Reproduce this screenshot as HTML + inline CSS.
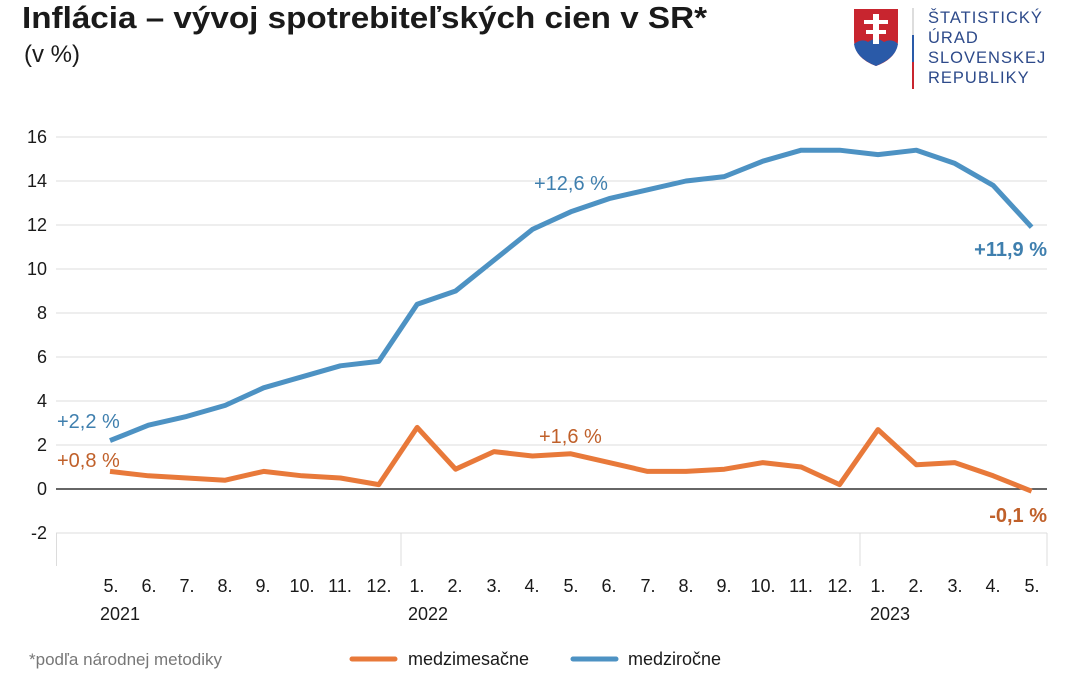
<!DOCTYPE html>
<html><head><meta charset="utf-8"><style>
body{margin:0;width:1080px;height:675px;background:#fff;overflow:hidden;font-family:"Liberation Sans",Arial,sans-serif}
</style></head><body>
<svg width="1080" height="675" xmlns="http://www.w3.org/2000/svg" font-family="Liberation Sans, Arial, sans-serif">
<text x="22" y="28" font-size="31" font-weight="bold" fill="#1a1a1a" textLength="685" lengthAdjust="spacingAndGlyphs">Inflácia – vývoj spotrebiteľských cien v SR*</text>
<text x="24" y="62" font-size="24" fill="#1a1a1a">(v %)</text>
<!-- logo -->
<path d="M854 9 H898 V40 Q898 58 876 66 Q854 58 854 40 Z" fill="#c8252f"/>
<path d="M854 44 Q862 38 868 42 Q876 36 884 42 Q892 38 898 44 Q896 58 876 66 Q856 58 854 44Z" fill="#2a5aa8"/>
<rect x="873" y="14" width="6" height="30" fill="#fff"/><rect x="864" y="20" width="24" height="4" fill="#fff"/><rect x="866" y="30" width="20" height="4" fill="#fff"/>
<rect x="912" y="8" width="2" height="27" fill="#ddd"/><rect x="912" y="35" width="2" height="27" fill="#2a5aa8"/><rect x="912" y="62" width="2" height="27" fill="#c8252f"/>
<g font-size="16.5" fill="#2d4a8a" letter-spacing="1"><text x="928" y="23">ŠTATISTICKÝ</text><text x="928" y="43">ÚRAD</text><text x="928" y="63">SLOVENSKEJ</text><text x="928" y="83">REPUBLIKY</text></g>
<!-- grid -->
<g stroke="#dcdcdc" stroke-width="1">
<line x1="56" x2="1047" y1="137" y2="137"/><line x1="56" x2="1047" y1="181" y2="181"/><line x1="56" x2="1047" y1="225" y2="225"/><line x1="56" x2="1047" y1="269" y2="269"/><line x1="56" x2="1047" y1="313" y2="313"/><line x1="56" x2="1047" y1="357" y2="357"/><line x1="56" x2="1047" y1="401" y2="401"/><line x1="56" x2="1047" y1="445" y2="445"/><line x1="56" x2="1047" y1="533" y2="533"/>
<line x1="56.5" x2="56.5" y1="533" y2="566"/><line x1="401" x2="401" y1="533" y2="566"/><line x1="860" x2="860" y1="533" y2="566"/><line x1="1047" x2="1047" y1="533" y2="566"/>
</g>
<line x1="56" x2="1047" y1="489" y2="489" stroke="#333" stroke-width="1.5"/>
<g font-size="18" fill="#1a1a1a" text-anchor="end">
<text x="47" y="143">16</text><text x="47" y="187">14</text><text x="47" y="231">12</text><text x="47" y="275">10</text><text x="47" y="319">8</text><text x="47" y="363">6</text><text x="47" y="407">4</text><text x="47" y="451">2</text><text x="47" y="495">0</text><text x="47" y="539">-2</text>
</g>
<g font-size="18" fill="#1a1a1a" text-anchor="middle">
<text x="111" y="592">5.</text><text x="149" y="592">6.</text><text x="187" y="592">7.</text><text x="225" y="592">8.</text><text x="263" y="592">9.</text><text x="302" y="592">10.</text><text x="340" y="592">11.</text><text x="379" y="592">12.</text><text x="417" y="592">1.</text><text x="455" y="592">2.</text><text x="494" y="592">3.</text><text x="532" y="592">4.</text><text x="571" y="592">5.</text><text x="609" y="592">6.</text><text x="648" y="592">7.</text><text x="686" y="592">8.</text><text x="724" y="592">9.</text><text x="763" y="592">10.</text><text x="801" y="592">11.</text><text x="840" y="592">12.</text><text x="878" y="592">1.</text><text x="916" y="592">2.</text><text x="955" y="592">3.</text><text x="993" y="592">4.</text><text x="1032" y="592">5.</text>
</g>
<g font-size="18" fill="#1a1a1a"><text x="100" y="620">2021</text><text x="408" y="620">2022</text><text x="870" y="620">2023</text></g>
<polyline fill="none" stroke="#4d92c3" stroke-width="5" stroke-linejoin="round" points="110,440.6 148.4,425.2 186.8,416.4 225.2,405.4 263.6,387.8 302,376.8 340.4,365.8 378.8,361.4 417.2,304.2 455.6,291 494,260.2 532.4,229.4 570.8,211.8 609.2,198.6 647.6,189.8 686,181 724.4,176.6 762.8,161.2 801.2,150.2 839.6,150.2 878,154.6 916.4,150.2 954.8,163.4 993.2,185.4 1031.6,227.2"/>
<polyline fill="none" stroke="#e8793a" stroke-width="5" stroke-linejoin="round" points="110,471.4 148.4,475.8 186.8,478 225.2,480.2 263.6,471.4 302,475.8 340.4,478 378.8,484.6 417.2,427.4 455.6,469.2 494,451.6 532.4,456 570.8,453.8 609.2,462.6 647.6,471.4 686,471.4 724.4,469.2 762.8,462.6 801.2,467 839.6,484.6 878,429.6 916.4,464.8 954.8,462.6 993.2,475.8 1031.6,491.2"/>
<g font-size="20"><text x="57" y="428" fill="#3f7fae">+2,2 %</text><text x="57" y="467" fill="#c0602a">+0,8 %</text><text x="534" y="190" fill="#3f7fae">+12,6 %</text><text x="539" y="443" fill="#c0602a">+1,6 %</text>
<text x="1047" y="256" fill="#3f7fae" font-weight="bold" text-anchor="end">+11,9 %</text><text x="1047" y="522" fill="#c0602a" font-weight="bold" text-anchor="end">-0,1 %</text></g>
<text x="29" y="665" font-size="17" fill="#777">*podľa národnej metodiky</text>
<line x1="352" x2="395" y1="659" y2="659" stroke="#e8793a" stroke-width="5" stroke-linecap="round"/>
<text x="408" y="665" font-size="18" fill="#1a1a1a">medzimesačne</text>
<line x1="573" x2="616" y1="659" y2="659" stroke="#4d92c3" stroke-width="5" stroke-linecap="round"/>
<text x="628" y="665" font-size="18" fill="#1a1a1a">medziročne</text>
</svg>
</body></html>
